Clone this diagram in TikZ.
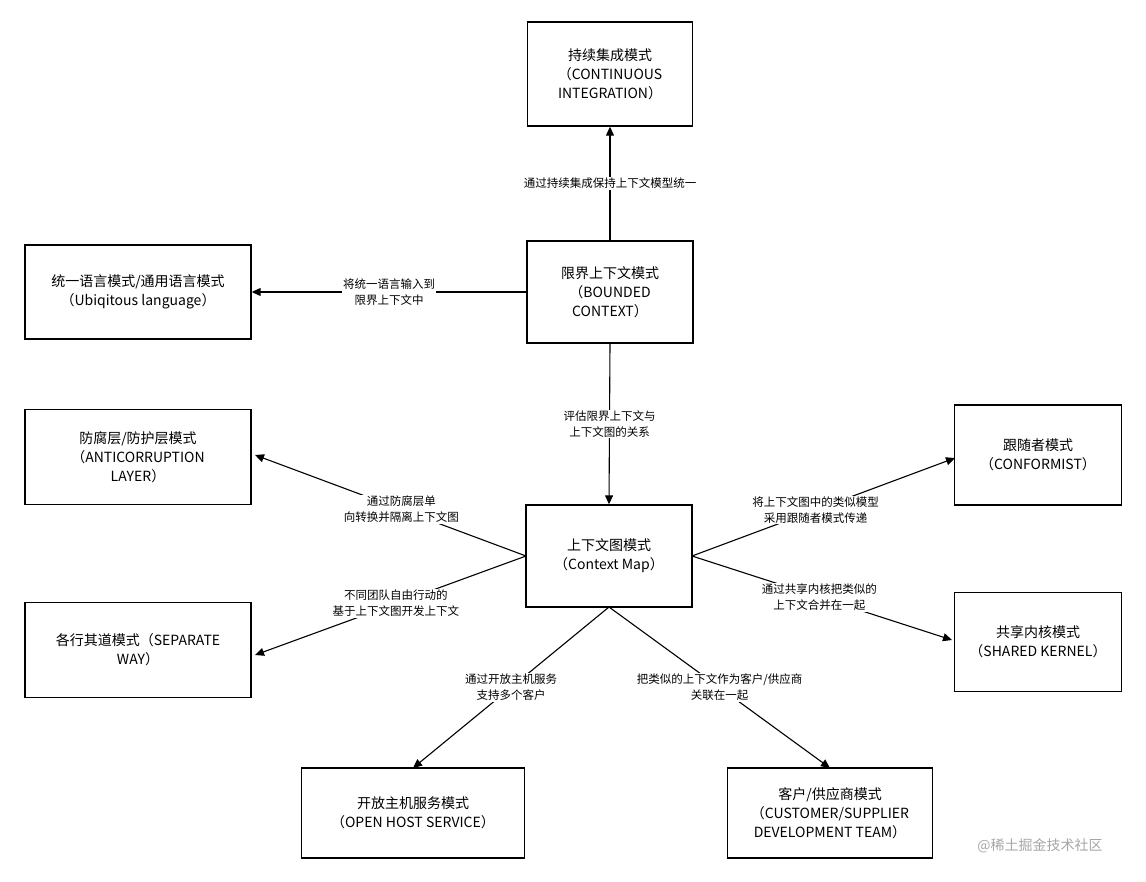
\documentclass[tikz,border=0pt]{standalone}
\usepackage{fontspec}
\setmainfont{Noto Sans CJK SC}
\usetikzlibrary{arrows.meta}
\begin{document}
\begin{tikzpicture}[x=1pt,y=-1pt,
  box/.style={draw,line width=1.4pt,align=center,font=\fontsize{14}{19}\selectfont,inner sep=0pt},
  lab/.style={fill=white,align=center,font=\fontsize{11.5}{16}\selectfont,inner sep=1pt},
  arr/.style={-{Triangle[length=9pt,width=8pt]},line width=1.1pt}]
\useasboundingbox (0,0) rectangle (1146,881);
\node[box,minimum width=165,minimum height=104] (ci) at (610,74) {持续集成模式\\（CONTINUOUS\\INTEGRATION）};
\node[box,minimum width=166,minimum height=102] (bc) at (610,292) {限界上下文模式\\（BOUNDED\\CONTEXT）};
\node[box,minimum width=226,minimum height=94] (ul) at (138,292) {统一语言模式/通用语言模式\\（Ubiqitous language）};
\node[box,minimum width=226,minimum height=95] (acl) at (138,457) {防腐层/防护层模式\\（ANTICORRUPTION\\LAYER）};
\node[box,minimum width=166,minimum height=102] (cm) at (609,556) {上下文图模式\\（Context Map）};
\node[box,minimum width=167,minimum height=100] (cf) at (1038,455) {跟随者模式\\（CONFORMIST）};
\node[box,minimum width=226,minimum height=95] (sw) at (138,650) {各行其道模式（SEPARATE\\WAY）};
\node[box,minimum width=167,minimum height=99] (sk) at (1038,642) {共享内核模式\\（SHARED KERNEL）};
\node[box,minimum width=223,minimum height=90] (oh) at (413,813) {开放主机服务模式\\（OPEN HOST SERVICE）};
\node[box,minimum width=205,minimum height=90] (cs) at (830,813) {客户/供应商模式\\（CUSTOMER/SUPPLIER\\DEVELOPMENT TEAM）};
\coordinate (cmL) at (526,556); \coordinate (cmR) at (692,556); \coordinate (cmB) at (609,607);
\draw[arr] (bc.north) -- (ci.south) node[lab,pos=0.5] {通过持续集成保持上下文模型统一};
\draw[arr] (bc.west) -- (ul.east) node[lab,pos=0.5] {将统一语言输入到\\限界上下文中};
\draw[arr] (bc.south) -- (cm.north) node[lab,pos=0.5] {评估限界上下文与\\上下文图的关系};
\draw[arr] (cmL) -- (255,455) node[lab,pos=0.46] {通过防腐层单\\向转换并隔离上下文图};
\draw[arr] (cmL) -- (255,655) node[lab,pos=0.48] {不同团队自由行动的\\基于上下文图开发上下文};
\draw[arr] (cmR) -- (955,458) node[lab,pos=0.47] {将上下文图中的类似模型\\采用跟随者模式传递};
\draw[arr] (cmR) -- (952,640) node[lab,pos=0.49] {通过共享内核把类似的\\上下文合并在一起};
\draw[arr] (cmB) -- (413,768) node[lab,pos=0.5] {通过开放主机服务\\支持多个客户};
\draw[arr] (cmB) -- (830,768) node[lab,pos=0.5] {把类似的上下文作为客户/供应商\\关联在一起};
\node[font=\fontsize{14}{16}\selectfont,text=gray!70] (wm) at (1040,846) {@稀土掘金技术社区};
\end{tikzpicture}
\end{document}
